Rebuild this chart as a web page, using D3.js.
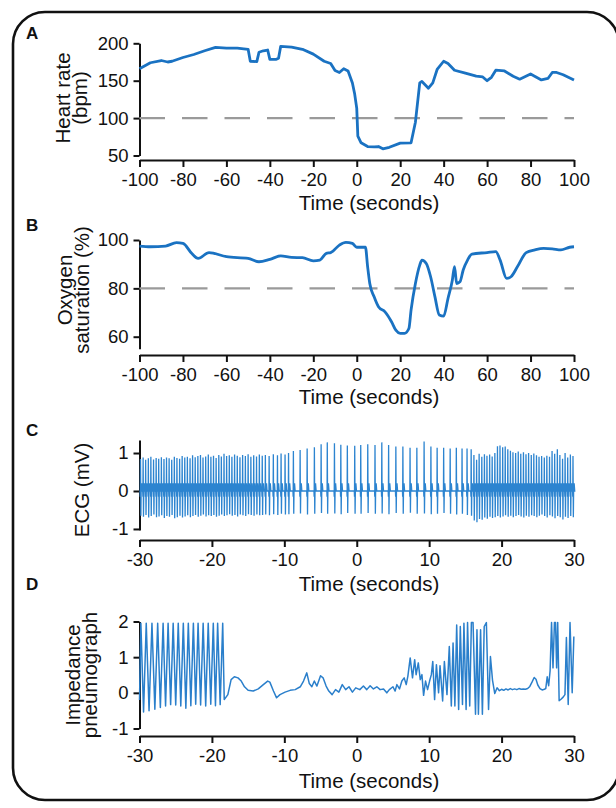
<!DOCTYPE html>
<html>
<head>
<meta charset="utf-8">
<script src="https://cdn.jsdelivr.net/npm/d3@7"></script>
<style>
body { margin: 0; background: #fff; }
svg text { font-family: "Liberation Sans", Arial, Helvetica, sans-serif; fill: #111; }
</style>
</head>
<body>
<div id="chart"></div>
<script>
// ---- data ----
var longTicks = [-100, -80, -60, -40, -20, 0, 20, 40, 60, 80, 100];
var shortTicks = [-30, -20, -10, 0, 10, 20, 30];
var hrTicks = [50, 100, 150, 200];
var spo2Ticks = [60, 80, 100];
var ecgTicks = [-1, 0, 1];
var respTicks = [-1, 0, 1, 2];

// heart rate (bpm) vs time (s)
var heartRate = [[-100,166],[-95,174],[-90,177],[-87,175],[-85,176],[-80,181],[-75,185],[-70,190],[-65,194.5],
  [-60,193.6],[-55,193.6],[-50,192],[-49,176],[-46,175.5],[-45,188],[-43,190],[-41,191],[-40,178.6],[-37,178.6],
  [-36,180],[-35,196],[-30,195],[-25,192],[-20,185.5],[-15,176],[-12,173],[-10,163.6],[-8,161],[-6,166],[-4,163],
  [-2,147],[-1,133],[0,113],[0.5,76],[2,67],[5,62],[8,61.5],[10,62],[12,59],[15,61],[20,66.6],[25,67],[27,94.5],
  [29,147],[30,149],[33,140],[35,147],[37,165],[40,176],[42,173],[45,164],[50,160],[55,156],[58,155],[60,150],
  [62,154.5],[64,164],[68,163],[72,156],[75,152],[80,159],[85,151],[88,153],[90,161],[92,161],[95,158],[100,151]];

// oxygen saturation (%) vs time (s)
var oxygen = [[-100,97.5],[-95,97.2],[-88,97.5],[-83,98.9],[-80,98.6],[-76,94.5],[-73,92.4],[-68,94.8],[-60,93.1],
  [-50,92.4],[-45,91],[-40,92],[-35,93.4],[-30,92.8],[-25,92.7],[-20,91.4],[-17,91.7],[-14,94.5],[-12,94.8],[-8,97.9],
  [-5,99],[-2,98.6],[0,97],[4,97],[5,89],[6,82],[8,76.5],[10,72.4],[13,70.3],[16,66.2],[18,62.7],[20,61.4],[22,61.4],
  [24,63.4],[25,71],[27,82],[29,89.6],[30,91.7],[32,90.3],[34,84.8],[36,76.5],[38,69],[40,68.5],[42,75.8],[44,83.4],
  [45,89],[46,82],[47.5,82.7],[49,87.6],[51,91.7],[53,94.2],[60,94.8],[64,95.2],[66,91.7],[69,84.1],[71,84.8],
  [74,89],[78,94.8],[82,95.9],[86,96.5],[90,96.3],[94,95.9],[98,97],[100,97.2]];

// ECG: time of each R wave (s), its peak and the following trough (mV)
var ecgBeatTime = [
  -29.86,-29.5,-29.15,-28.78,-28.43,-28.06,-27.7,-27.35,-26.98,-26.62,-26.27,-25.91,-25.55,-25.19,-24.83,-24.46,
  -24.11,-23.75,-23.39,-23.02,-22.67,-22.31,-21.94,-21.58,-21.23,-20.86,-20.5,-20.14,-19.78,-19.42,-19.05,-18.7,
  -18.33,-17.97,-17.6,-17.24,-16.87,-16.5,-16.13,-15.76,-15.38,-15.0,-14.62,-14.23,-13.84,-13.45,-13.05,
  -12.62,-12.1,-11.52,-10.95,-10.45,-9.9,-9.42,-8.75,-7.82,-6.85,-5.85,-4.92,-4.07,-3.08,-2.2,-1.3,-0.28,
  0.55,1.52,2.52,3.46,4.4,5.4,6.37,7.36,8.3,9.3,10.24,11.1,12.0,12.9,13.75,14.54,15.23,15.8,
  16.18,16.55,16.9,17.27,17.63,17.98,18.35,18.7,19.07,19.43,19.78,20.15,20.5,20.86,21.22,21.57,21.94,22.3,22.65,
  23.02,23.37,23.73,24.1,24.45,24.82,25.17,25.53,25.9,26.25,26.62,26.97,27.33,27.7,28.05,28.42,28.77,29.13,29.5,29.86];
var ecgPeak = [
  0.84,0.88,0.82,0.86,0.9,0.83,0.87,0.85,0.89,0.84,0.88,0.86,0.82,0.9,0.87,0.85,0.92,0.88,0.9,0.86,0.94,0.89,0.92,
  0.95,0.88,0.91,0.96,0.9,0.93,0.87,0.95,0.91,0.98,0.92,0.94,0.9,0.96,0.93,0.89,0.95,0.92,0.97,0.9,0.94,0.91,0.96,0.93,
  0.95,0.92,0.97,0.94,0.99,0.96,1.0,1.05,1.08,1.12,1.15,1.23,1.28,1.26,1.22,1.2,1.19,
  1.21,1.23,1.21,1.28,1.21,1.17,1.17,1.14,1.14,1.3,1.17,1.14,1.14,1.12,1.14,1.12,1.12,1.1,
  0.95,0.82,0.98,0.9,0.97,0.93,0.96,0.91,1.0,1.18,1.2,1.15,1.17,1.1,1.06,1.02,1.0,1.04,0.98,1.02,0.97,1.0,0.95,
  0.99,0.94,0.9,0.92,0.88,0.93,0.9,1.05,0.98,1.1,0.95,0.85,1.0,0.88,0.96,0.92];
var ecgTrough = [
  -0.65,-0.68,-0.63,-0.7,-0.66,-0.62,-0.69,-0.67,-0.64,-0.71,-0.66,-0.68,-0.63,-0.72,-0.69,-0.65,-0.7,-0.67,-0.64,
  -0.69,-0.66,-0.63,-0.68,-0.65,-0.62,-0.67,-0.64,-0.66,-0.63,-0.68,-0.65,-0.62,-0.66,-0.64,-0.61,-0.65,-0.63,-0.67,
  -0.62,-0.64,-0.66,-0.61,-0.63,-0.65,-0.62,-0.64,-0.63,
  -0.62,-0.64,-0.61,-0.63,-0.6,-0.62,-0.61,-0.6,-0.59,-0.62,-0.6,-0.58,-0.6,-0.59,-0.61,-0.58,-0.6,
  -0.6,-0.58,-0.6,-0.59,-0.61,-0.58,-0.6,-0.57,-0.6,-0.59,-0.61,-0.6,-0.58,-0.6,-0.62,-0.6,-0.63,-0.65,
  -0.78,-0.82,-0.74,-0.76,-0.7,-0.73,-0.68,-0.71,-0.69,-0.66,-0.7,-0.67,-0.64,-0.68,-0.65,-0.69,-0.66,-0.63,-0.67,
  -0.7,-0.65,-0.68,-0.64,-0.66,-0.69,-0.65,-0.62,-0.66,-0.7,-0.64,-0.67,-0.72,-0.66,-0.69,-0.75,-0.68,-0.71,-0.66,-0.69];

// impedance pneumograph trace (time s, value)
var respPoints = [[-30,-0.2],[-29.81,1.95],[-29.44,-0.54],[-29.07,1.95],[-28.68,-0.5],[-28.28,1.95],[-27.88,-0.46],
  [-27.49,1.95],[-27.12,-0.41],[-26.74,1.95],[-26.4,-0.37],[-26.05,1.95],[-25.7,-0.33],[-25.35,1.95],[-25.0,-0.34],
  [-24.65,1.95],[-24.3,-0.37],[-23.95,1.95],[-23.6,-0.43],[-23.26,1.95],[-22.91,-0.36],[-22.56,1.95],[-22.24,-0.32],
  [-21.91,1.95],[-21.56,-0.34],[-21.21,1.95],[-20.86,-0.37],[-20.51,1.95],[-20.16,-0.32],[-19.81,1.95],[-19.51,-0.36],
  [-19.21,1.95],[-18.86,-0.33],[-18.51,1.95],[-18.3,-0.19],[-17.8,-0.05],[-17.35,0.37],[-16.9,0.45],[-16.4,0.42],
  [-15.95,0.33],[-15.5,0.17],[-15.0,0.07],[-14.3,0.05],[-13.6,0.11],[-12.9,0.23],[-12.3,0.33],[-12.0,0.3],[-11.5,0.05],
  [-11.07,-0.14],[-10.6,-0.05],[-9.9,0.02],[-9.2,0.07],[-8.5,0.09],[-7.8,0.17],[-7.35,0.33],[-6.9,0.56],[-6.55,0.26],
  [-6.2,0.17],[-5.86,0.33],[-5.5,0.19],[-5.0,0.48],[-4.65,0.42],[-4.23,0.19],[-3.86,0.05],[-3.4,-0.05],[-2.93,0.09],
  [-2.47,0.02],[-2.0,0.23],[-1.53,0.09],[-1.07,0.17],[-0.6,0.02],[-0.14,0.14],[0.42,0.09],[0.92,0.19],[1.38,0.09],
  [1.85,0.2],[2.3,0.11],[2.77,0.17],[3.23,0.09],[3.7,0.11],[4.15,0.0],[4.5,0.09],[5.0,0.17],[5.3,0.05],[5.54,0.23],
  [5.9,0.11],[6.23,0.33],[6.55,0.42],[6.83,0.23],[7.06,0.47],[7.38,0.98],[7.7,0.42],[8.0,0.93],[8.2,0.51],[8.5,0.84],
  [8.77,0.37],[9.0,0.51],[9.23,-0.07],[9.5,0.33],[9.78,0.09],[10.06,0.33],[10.3,0.51],[10.5,0.88],[10.75,-0.19],
  [11.0,0.79],[11.3,0.0],[11.5,0.76],[11.86,-0.23],[12.1,0.88],[12.46,-0.05],[12.78,1.3],[13.06,-0.37],[13.3,1.4],
  [13.55,-0.37],[13.8,1.9],[14.07,-0.47],[14.3,1.86],[14.6,-0.33],[14.8,1.95],[15.1,-0.47],[15.3,1.97],[15.6,-0.37],
  [15.83,1.97],[16.06,1.97],[16.4,-0.6],[16.6,1.77],[16.8,-0.6],[17.1,1.77],[17.35,-0.6],[17.6,1.86],[17.9,1.97],
  [18.2,-0.47],[18.46,1.02],[18.75,0.35],[19.06,-0.02],[19.38,0.14],[19.7,0.06],[20.0,0.1],[20.3,0.07],[20.6,0.11],
  [20.9,0.08],[21.2,0.12],[21.5,0.09],[21.8,0.11],[22.1,0.09],[22.4,0.12],[22.7,0.1],[23.0,0.11],[23.3,0.1],
  [23.6,0.12],[23.9,0.18],[24.2,0.3],[24.5,0.43],[24.75,0.38],[25.0,0.22],[25.3,0.12],[25.6,0.08],[25.9,0.1],
  [26.1,0.12],[26.3,0.45],[26.5,0.2],[26.7,0.62],[26.9,1.97],[27.1,0.7],[27.3,1.97],[27.45,1.97],[27.6,0.7],
  [27.75,1.97],[27.95,-0.22],[28.2,-0.18],[28.5,-0.12],[28.75,-0.05],[28.95,1.55],[29.2,-0.33],[29.45,1.97],
  [29.75,0.0],[29.98,1.58]];

// ---- drawing ----
var blue = '#1a72c2';
var fmt = function(d){ return '' + d; };

var svg = d3.select('#chart').append('svg')
  .attr('width', 616)
  .attr('height', 808);

svg.append('rect')
  .attr('x', 13).attr('y', 12)
  .attr('width', 606).attr('height', 788)
  .attr('rx', 32)
  .attr('fill', 'none')
  .attr('stroke', '#111')
  .attr('stroke-width', 2.6);

var panels = [
  {letter:'A', letterY:39, xDomain:[-100,100], xTicks:longTicks, yDomain:[50,200], yRange:[155.5,43.3],
   yTicks:hrTicks, axisY:160, titleY:210, ylab:['Heart rate','(bpm)'], ylabX:[63,80], ylabY:98},
  {letter:'B', letterY:231, xDomain:[-100,100], xTicks:longTicks, yDomain:[55,100], yRange:[348.8,240],
   yTicks:spo2Ticks, axisY:355, titleY:404, ylab:['Oxygen','saturation (%)'], ylabX:[65,82], ylabY:290},
  {letter:'C', letterY:436, xDomain:[-30,30], xTicks:shortTicks, yDomain:[-1.03,1.34], yRange:[530.1,440.1],
   yTicks:ecgTicks, axisY:540, titleY:591, ylab:['ECG (mV)'], ylabX:[82], ylabY:490},
  {letter:'D', letterY:590, xDomain:[-30,30], xTicks:shortTicks, yDomain:[-1,2], yRange:[728.5,621.5],
   yTicks:respTicks, axisY:736, titleY:788, ylab:['Impedance','pneumograph'], ylabX:[73,90], ylabY:675}
];

var scales = panels.map(function(p){
  var x = d3.scaleLinear().domain(p.xDomain).range([139.5, 574]);
  var y = d3.scaleLinear().domain(p.yDomain).range(p.yRange);
  var g = svg.append('g');

  var ya = g.append('g')
    .attr('transform', 'translate(139.5,0)')
    .call(d3.axisLeft(y).tickValues(p.yTicks).tickSize(6).tickSizeOuter(0).tickPadding(5).tickFormat(fmt));
  var xa = g.append('g')
    .attr('transform', 'translate(0,' + p.axisY + ')')
    .call(d3.axisBottom(x).tickValues(p.xTicks).tickSize(7).tickSizeOuter(0).tickPadding(6).tickFormat(fmt));
  [ya, xa].forEach(function(a){
    a.selectAll('path, line').attr('stroke', '#111').attr('stroke-width', 2);
    a.selectAll('text').attr('font-size', 18.5).attr('fill', '#111');
  });

  g.append('text')
    .attr('x', 369).attr('y', p.titleY)
    .attr('text-anchor', 'middle')
    .attr('font-size', 20.5)
    .text('Time (seconds)');

  p.ylab.forEach(function(t, i){
    g.append('text')
      .attr('transform', 'translate(' + p.ylabX[i] + ',' + p.ylabY + ') rotate(-90)')
      .attr('text-anchor', 'middle')
      .attr('dy', '0.35em')
      .attr('font-size', 20.5)
      .text(t);
  });

  g.append('text')
    .attr('x', 26).attr('y', p.letterY)
    .attr('font-size', 17)
    .attr('font-weight', 'bold')
    .text(p.letter);

  return {x: x, y: y, g: g};
});

// A: heart rate
var a = scales[0];
a.g.append('line')
  .attr('x1', a.x(-100)).attr('x2', a.x(100))
  .attr('y1', a.y(100)).attr('y2', a.y(100))
  .attr('stroke', '#9a9a9a').attr('stroke-width', 2.4).attr('stroke-dasharray', '25.5,17');
a.g.append('path')
  .datum(heartRate)
  .attr('fill', 'none').attr('stroke', blue).attr('stroke-width', 2.8).attr('stroke-linejoin', 'round')
  .attr('d', d3.line().x(function(d){return a.x(d[0]);}).y(function(d){return a.y(d[1]);}));

// B: oxygen saturation
var b = scales[1];
b.g.append('line')
  .attr('x1', b.x(-100)).attr('x2', b.x(100))
  .attr('y1', b.y(80)).attr('y2', b.y(80))
  .attr('stroke', '#9a9a9a').attr('stroke-width', 2.4).attr('stroke-dasharray', '25.5,17');
b.g.append('path')
  .datum(oxygen)
  .attr('fill', 'none').attr('stroke', blue).attr('stroke-width', 2.8).attr('stroke-linejoin', 'round')
  .attr('d', d3.line().curve(d3.curveMonotoneX).x(function(d){return b.x(d[0]);}).y(function(d){return b.y(d[1]);}));

// C: ECG, each beat drawn as a spike + trough + small T wave
var c = scales[2];
var ecgPoints = [[-30, 0]];
ecgBeatTime.forEach(function(t, i){
  ecgPoints.push([t-0.06, 0], [t-0.03, -0.15], [t, ecgPeak[i]], [t+0.05, ecgTrough[i]],
    [t+0.09, 0.03], [t+0.16, 0.2], [t+0.24, 0]);
});
ecgPoints.push([30, 0]);
c.g.append('path')
  .datum(ecgPoints)
  .attr('fill', 'none').attr('stroke', '#2c84d0').attr('stroke-width', 1.3)
  .attr('d', d3.line().x(function(d){return c.x(d[0]);}).y(function(d){return c.y(d[1]);}));

// D: impedance pneumograph
var dd = scales[3];
dd.g.append('path')
  .datum(respPoints)
  .attr('fill', 'none').attr('stroke', '#2a7fcb').attr('stroke-width', 1.5).attr('stroke-linejoin', 'round')
  .attr('d', d3.line().x(function(d){return dd.x(d[0]);}).y(function(d){return dd.y(d[1]);}));
</script>
</body>
</html>
